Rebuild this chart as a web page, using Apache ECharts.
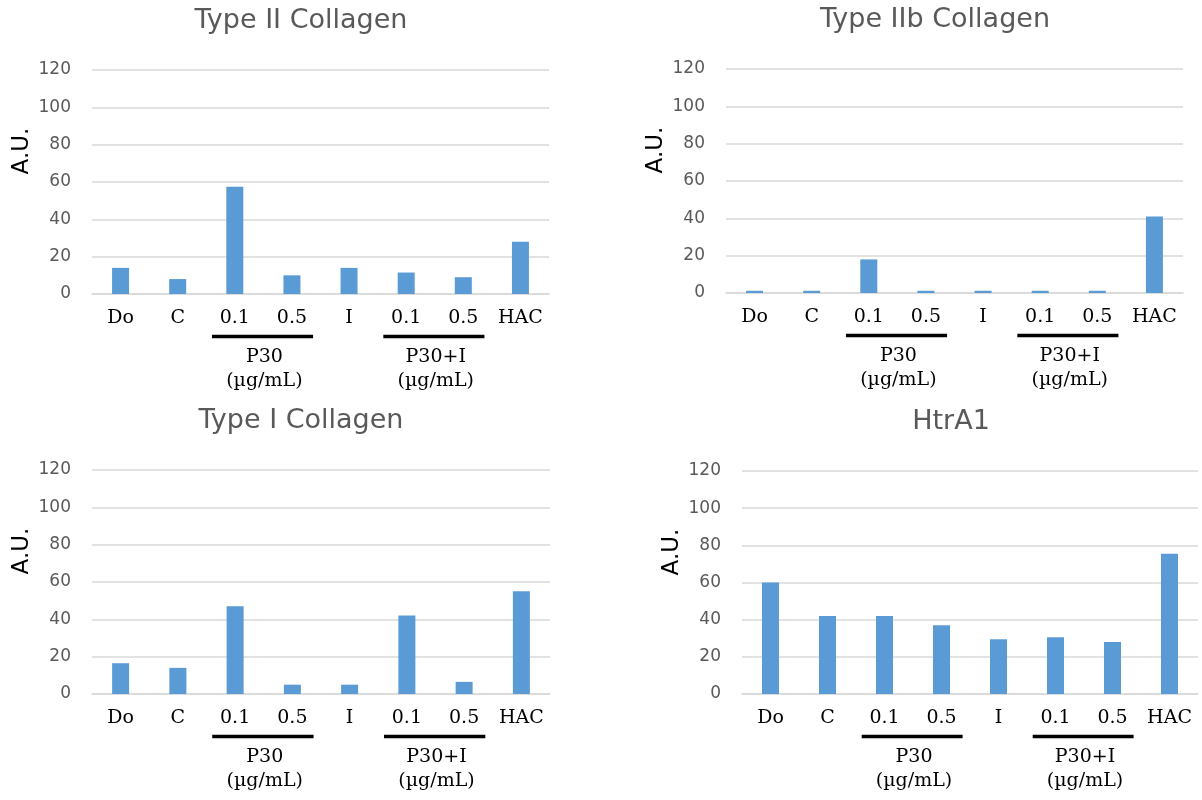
<!DOCTYPE html>
<html>
<head>
<meta charset="utf-8">
<script src="https://cdn.jsdelivr.net/npm/echarts@6/dist/echarts.min.js"></script>
<style>
html,body{margin:0;padding:0;background:#fff;}
#chart{width:1202px;height:800px;}
</style>
</head>
<body>
<div id="chart"></div>
<script>
// ---- data ----
var categories = ['Do', 'C', 'P30 0.1', 'P30 0.5', 'I', 'P30+I 0.1', 'P30+I 0.5', 'HAC'];
var tickLabels = ['Do', 'C', '0.1', '0.5', 'I', '0.1', '0.5', 'HAC'];
var yTicks = [0, 20, 40, 60, 80, 100, 120];
var titles = ['Type II Collagen', 'Type IIb Collagen', 'Type I Collagen', 'HtrA1'];
var yAxisName = 'A.U.';
var typeIICollagen = [14, 8, 57.5, 10, 14, 11.5, 9, 28];
var typeIIbCollagen = [1.2, 1.2, 18, 1.2, 1.2, 1.2, 1.2, 41];
var typeICollagen = [16.5, 14, 47, 5, 5, 42, 6.5, 55];
var htrA1 = [60, 42, 42, 37, 29.5, 30.5, 28, 75.5];
var groupLabels = ['P30\n(µg/mL)', 'P30+I\n(µg/mL)'];
var groupRanges = [[2, 3], [5, 6]];

var seriesData = [typeIICollagen, typeIIbCollagen, typeICollagen, htrA1];

// ---- layout ----
var grids = [
  {left: 92, top: 70, width: 457, height: 224},
  {left: 726, top: 69, width: 457, height: 224},
  {left: 92, top: 470, width: 458, height: 224},
  {left: 742, top: 471, width: 456, height: 223}
];
var BLUE = '#5B9BD5';
var GRID_COLOR = '#D9D9D9';
var TICK_COLOR = '#595959';
var SANS = 'DejaVu Sans';
var SERIF = 'DejaVu Serif';

var chart = echarts.init(document.getElementById('chart'), null, {renderer: 'canvas'});

var option = {
  animation: false,
  backgroundColor: '#ffffff',
  title: titles.map(function (t, i) {
    return {
      text: t,
      left: grids[i].left + 209,
      top: grids[i].top - 63,
      textAlign: 'center',
      padding: 0,
      textStyle: {fontFamily: SANS, fontSize: 27, fontWeight: 'normal', color: TICK_COLOR}
    };
  }),
  grid: grids.map(function (g) {
    return {left: g.left, top: g.top, width: g.width, height: g.height, containLabel: false};
  }),
  xAxis: grids.map(function (g, i) {
    return {
      type: 'category',
      gridIndex: i,
      data: categories,
      axisLine: {show: true, lineStyle: {color: GRID_COLOR, width: 1.5}},
      axisTick: {show: false},
      axisLabel: {
        interval: 0,
        margin: 15,
        fontFamily: SERIF,
        fontSize: 19,
        color: '#000',
        formatter: function (v, idx) { return tickLabels[idx]; }
      }
    };
  }),
  yAxis: grids.map(function (g, i) {
    return {
      type: 'value',
      gridIndex: i,
      min: yTicks[0],
      max: yTicks[yTicks.length - 1],
      interval: yTicks[1] - yTicks[0],
      axisLine: {show: false},
      axisTick: {show: false},
      splitLine: {show: true, lineStyle: {color: GRID_COLOR, width: 1.5}},
      axisLabel: {margin: 21, fontFamily: SANS, fontSize: 17, color: TICK_COLOR}
    };
  }),
  series: seriesData.map(function (d, i) {
    return {
      type: 'bar',
      xAxisIndex: i,
      yAxisIndex: i,
      data: d,
      barWidth: 17,
      itemStyle: {color: BLUE}
    };
  })
};
chart.setOption(option);

// ---- annotations derived from the axes ----
var graphics = [];
grids.forEach(function (g, i) {
  // y-axis name
  graphics.push({
    type: 'text',
    x: g.left - 70,
    y: g.top + 81,
    rotation: Math.PI / 2,
    style: {
      text: yAxisName,
      fontFamily: SANS,
      fontSize: 23,
      fill: '#000',
      textAlign: 'center',
      textVerticalAlign: 'middle'
    }
  });
  var x0 = chart.convertToPixel({xAxisIndex: i}, 0);
  var x1 = chart.convertToPixel({xAxisIndex: i}, 1);
  var band = x1 - x0;
  var base = chart.convertToPixel({yAxisIndex: i}, 0);
  groupRanges.forEach(function (r, k) {
    var xa = chart.convertToPixel({xAxisIndex: i}, r[0]);
    var xb = chart.convertToPixel({xAxisIndex: i}, r[1]);
    graphics.push({
      type: 'line',
      shape: {x1: xa - band * 0.40, y1: base + 42.5, x2: xb + band * 0.37, y2: base + 42.5},
      style: {stroke: '#000', lineWidth: 3.5}
    });
    var lines = groupLabels[k].split('\n');
    lines.forEach(function (ln, j) {
      graphics.push({
        type: 'text',
        x: (xa + xb) / 2 + 1,
        y: base + 63 + j * 24,
        style: {
          text: ln,
          fontFamily: SERIF,
          fontSize: 19,
          fill: '#000',
          textAlign: 'center',
          textVerticalAlign: 'middle'
        }
      });
    });
  });
});
chart.setOption({graphic: graphics});
</script>
</body>
</html>
